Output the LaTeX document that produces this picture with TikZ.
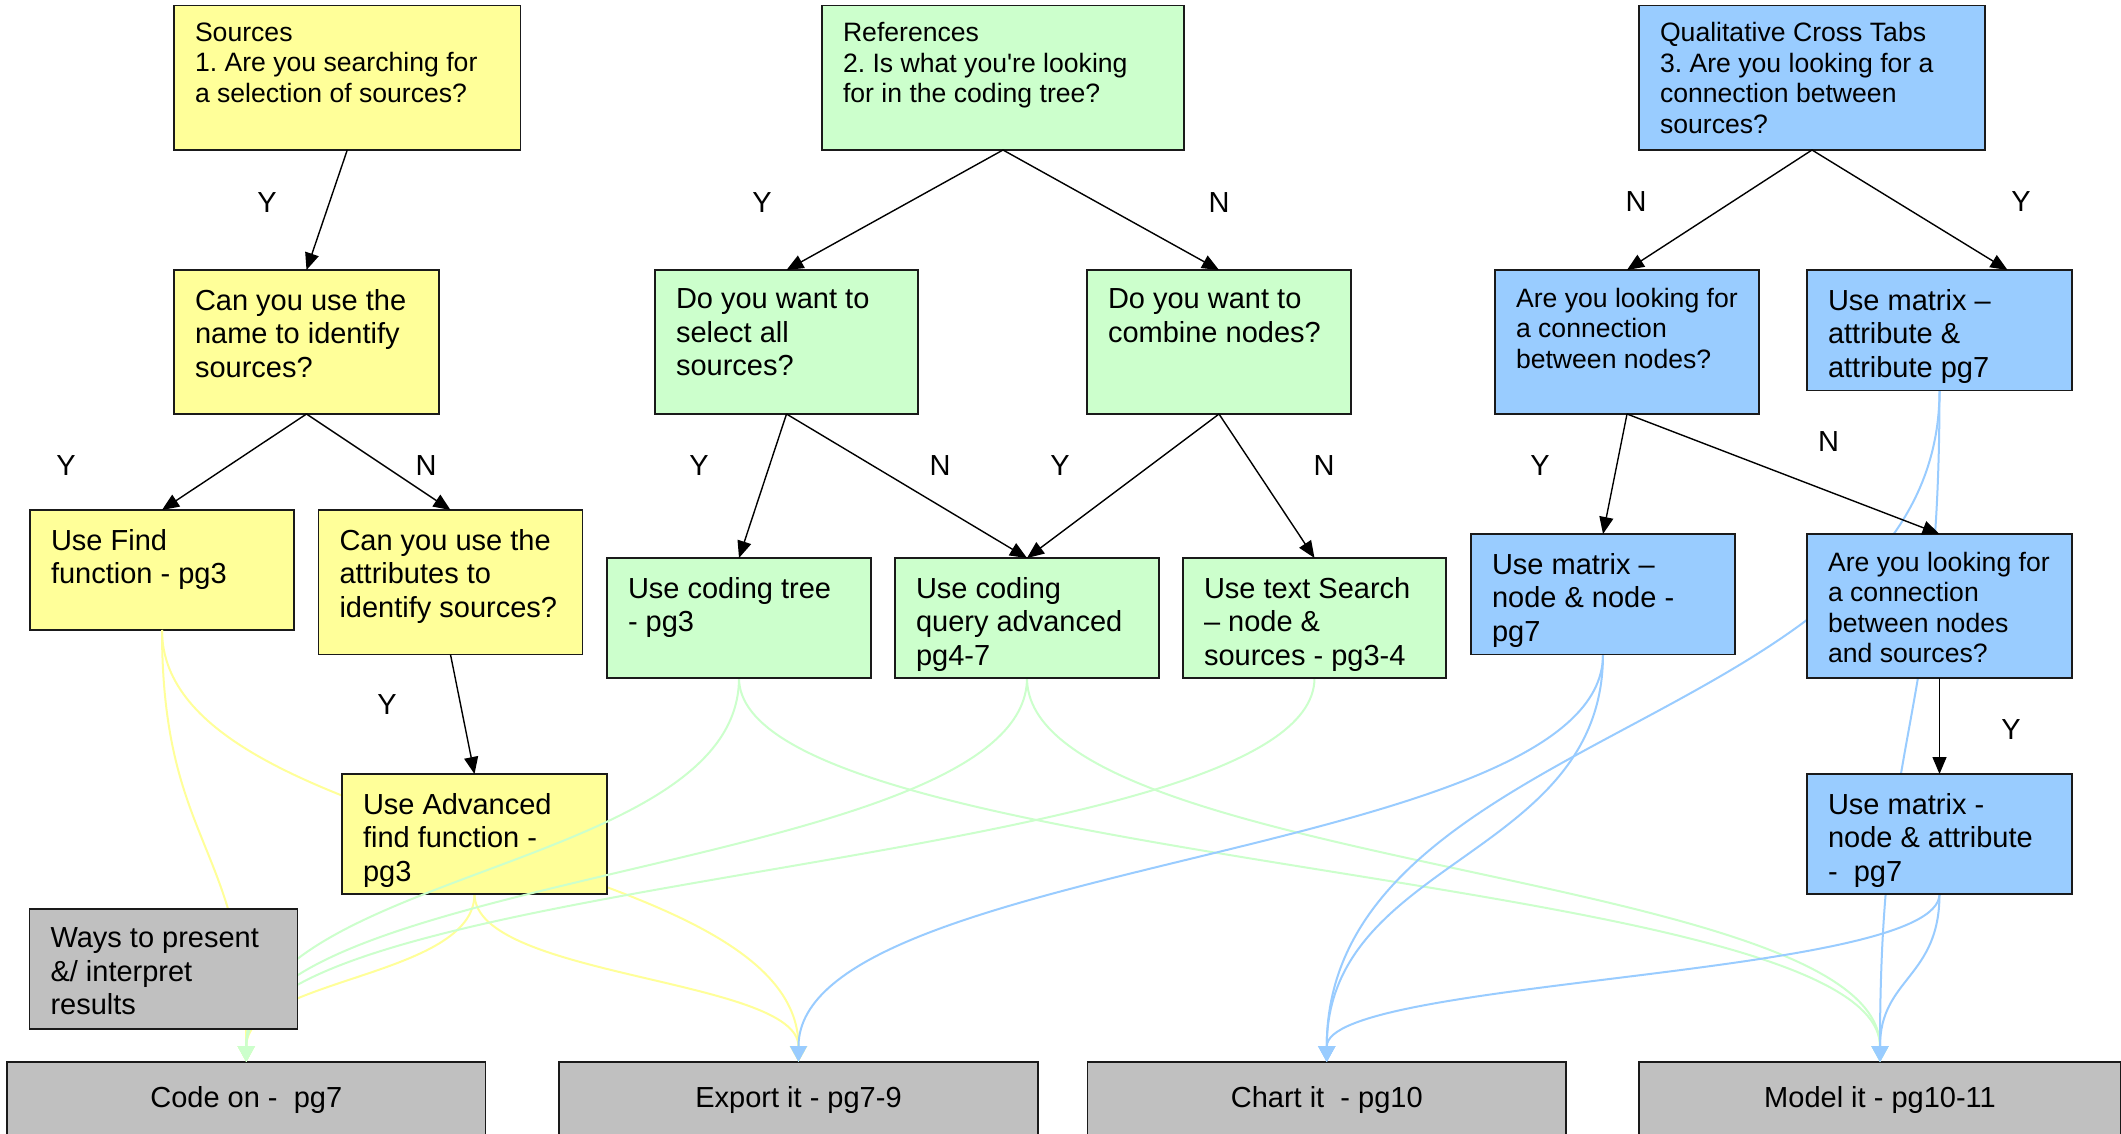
\documentclass[tikz,border=0pt]{standalone}
\usepackage{fontspec}
\setmainfont{Liberation Sans}
\usetikzlibrary{arrows.meta,calc}
\frenchspacing
\definecolor{yel}{HTML}{FFFF99}
\definecolor{grn}{HTML}{CCFFCC}
\definecolor{blu}{HTML}{99CCFF}
\definecolor{gry}{HTML}{C0C0C0}
\definecolor{edgec}{HTML}{1A1A1A}
\newcommand\bigf{\fontsize{29}{33.5}\selectfont}
\newcommand\smallf{\fontsize{26.6}{30.5}\selectfont}
\newcommand\bx[6]{\node[box,fill=#2,minimum width={(#5)-(#3)},minimum height={(#6)-(#4)}] (#1) at (#3,#4) {};}
\newcommand\bt[4]{\node[txt,font=#2] (#1T) at ($(#1.north west)+(21,#3)$) {#4};}
\newcommand\sconn[3]{\draw[curve,draw=#1] let \p1=(#2.south), \p2=(#3.north) in (\p1) .. controls (\x1,{0.5*(\y1)+0.5*(\y2)}) and (\x2,{0.5*(\y1)+0.5*(\y2)}) .. (\p2);}
\begin{document}
\begin{tikzpicture}[x=1pt,y=-1pt,
  box/.style={draw=edgec,line width=1.8pt,rectangle,anchor=north west,inner sep=0pt,outer sep=0pt},
  txt/.style={anchor=north west,inner sep=0pt,outer sep=0pt,align=left,text=black},
  lab/.style={font=\bigf,inner sep=0pt},
  curve/.style={line width=2pt,-{Triangle[length=16pt,width=17pt]}},
  arr/.style={draw=black,line width=1.4pt,-{Triangle[length=17pt,width=14pt]}}]
\useasboundingbox (0,0) rectangle (2121,1134);
\fill[white] (0,0) rectangle (2121,1134);

% yellow boxes
\bx{src}{yel}{174}{5.5}{520.5}{150}
\bx{name}{yel}{174}{270}{439}{414}
\bx{find}{yel}{30}{510}{294}{630}
\bx{attr}{yel}{318.5}{510}{582.5}{654.5}
% bottom boxes
\node[box,fill=gry,minimum width=478.5,minimum height=76,font=\bigf] (code) at (7,1062) {Code on -\ \ pg7};
\node[box,fill=gry,minimum width=479,minimum height=76,font=\bigf] (export) at (559,1062) {Export it - pg7-9};
\node[box,fill=gry,minimum width=478.5,minimum height=76,font=\bigf] (chart) at (1087.5,1062) {Chart it\ \ - pg10};
\node[box,fill=gry,minimum width=482,minimum height=76,font=\bigf] (model) at (1639,1062) {Model it - pg10-11};

% anchors of the boxes drawn later (for layering)
\begin{scope}[opacity=0]
\bx{adv}{yel}{342}{774}{607}{894}
\bx{tree}{grn}{607}{558}{871}{678}
\bx{query}{grn}{895}{558}{1159}{678}
\bx{tsearch}{grn}{1183}{558}{1446}{678}
\bx{nn}{blu}{1471}{534}{1735}{654.5}
\bx{att}{blu}{1807}{270}{2072}{390.5}
\bx{na}{blu}{1807}{774}{2072}{894}
\end{scope}

% yellow curves
\sconn{yel}{find}{code}
\sconn{yel}{find}{export}
\sconn{yel}{adv}{code}
\sconn{yel}{adv}{export}

% advanced find box
\bx{advB}{yel}{342}{774}{607}{894}

% green curves
\sconn{grn}{tree}{code}
\sconn{grn}{tree}{model}
\sconn{grn}{query}{code}
\sconn{grn}{query}{model}
\sconn{grn}{tsearch}{code}
% blue curves
\sconn{blu}{nn}{export}
\sconn{blu}{nn}{chart}
\sconn{blu}{att}{chart}
\sconn{blu}{att}{model}
\sconn{blu}{na}{chart}
\sconn{blu}{na}{model}

% green and blue boxes
\bx{ref}{grn}{822}{5.5}{1184}{150}
\bx{sel}{grn}{655}{270}{918}{414}
\bx{comb}{grn}{1087}{270}{1351}{414}
\bx{treeB}{grn}{607}{558}{871}{678}
\bx{queryB}{grn}{895}{558}{1159}{678}
\bx{tsearchB}{grn}{1183}{558}{1446}{678}
\bx{qct}{blu}{1639}{5.5}{1985}{150}
\bx{conn}{blu}{1495}{270}{1759}{414}
\bx{attB}{blu}{1807}{270}{2072}{390.5}
\bx{nnB}{blu}{1471}{534}{1735}{654.5}
\bx{ns}{blu}{1807}{534}{2072}{678}
\bx{naB}{blu}{1807}{774}{2072}{894}
\bx{ways}{gry}{29.5}{909}{297.5}{1029}

% texts
\bt{src}{\smallf}{17}{Sources\\1. Are you searching for\\a selection of sources?}
\bt{ref}{\smallf}{17}{References\\2. Is what you\textquotesingle re looking\\for in the coding tree?}
\bt{qct}{\smallf}{17}{Qualitative Cross Tabs\\3. Are you looking for a\\connection between\\sources?}
\bt{name}{\bigf}{19}{Can you use the\\name to identify\\sources?}
\bt{sel}{\bigf}{19}{Do you want to\\select all\\sources?}
\bt{comb}{\bigf}{19}{Do you want to\\combine nodes?}
\bt{conn}{\smallf}{18}{Are you looking for\\a connection\\between nodes?}
\bt{attB}{\bigf}{19}{Use matrix –\\attribute \&\\attribute pg7}
\bt{find}{\bigf}{19}{Use Find\\function - pg3}
\bt{attr}{\bigf}{19}{Can you use the\\attributes to\\identify sources?}
\bt{treeB}{\bigf}{19}{Use coding tree\\- pg3}
\bt{queryB}{\bigf}{19}{Use coding\\query advanced\\pg4-7}
\bt{tsearchB}{\bigf}{19}{Use text Search\\– node \&\\sources - pg3-4}
\bt{nnB}{\bigf}{19}{Use matrix –\\node \& node -\\pg7}
\bt{ns}{\smallf}{18}{Are you looking for\\a connection\\between nodes\\and sources?}
\bt{advB}{\bigf}{19}{Use Advanced\\find function -\\pg3}
\bt{naB}{\bigf}{19}{Use matrix -\\node \& attribute\\-\ \ pg7}
\bt{ways}{\bigf}{19}{Ways to present\\\&/ interpret\\results}

% black connectors
\draw[arr] (src.south) -- (name.north);
\draw[arr] (name.south) -- (find.north);
\draw[arr] (name.south) -- (attr.north);
\draw[arr] (attr.south) -- (advB.north);
\draw[arr] (ref.south) -- (sel.north);
\draw[arr] (ref.south) -- (comb.north);
\draw[arr] (sel.south) -- (treeB.north);
\draw[arr] (sel.south) -- (queryB.north);
\draw[arr] (comb.south) -- (queryB.north);
\draw[arr] (comb.south) -- (tsearchB.north);
\draw[arr] (qct.south) -- (conn.north);
\draw[arr] (qct.south) -- ([xshift=68pt]attB.north);
\draw[arr] (conn.south) -- (nnB.north);
\draw[arr] (conn.south) -- (ns.north);
\draw[arr] (ns.south) -- (naB.north);

% Y/N labels
\node[lab] (l1) at (267,203) {Y};
\node[lab] (l2) at (66,466) {Y};
\node[lab] (l3) at (426,466) {N};
\node[lab] (l4) at (387,705) {Y};
\node[lab] (l5) at (762,203) {Y};
\node[lab] (l6) at (1219,203) {N};
\node[lab] (l7) at (699,466) {Y};
\node[lab] (l8) at (940,466) {N};
\node[lab] (l9) at (1060,466) {Y};
\node[lab] (l10) at (1324,466) {N};
\node[lab] (l11) at (1636,202) {N};
\node[lab] (l12) at (2021,202) {Y};
\node[lab] (l13) at (1540,466) {Y};
\node[lab] (l14) at (1828.5,442) {N};
\node[lab] (l15) at (2011,730) {Y};
\end{tikzpicture}
\end{document}
